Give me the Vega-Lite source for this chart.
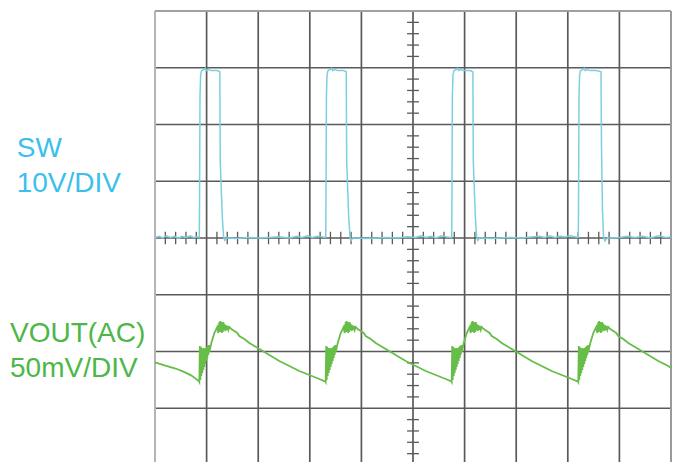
{
  "$schema": "https://vega.github.io/schema/vega-lite/v6.json",
  "width": 674,
  "height": 462,
  "autosize": {"type": "none"},
  "padding": 0,
  "background": "#ffffff",
  "config": {"view": {"stroke": null}},
  "datasets": {
    "vgrid": [{"x":1},{"x":2},{"x":3},{"x":4},{"x":5},{"x":6},{"x":7},{"x":8},{"x":9}],
    "hgrid": [{"y":-3},{"y":-2},{"y":-1},{"y":0},{"y":1},{"y":2},{"y":3}],
    "htick": [{"x":0.2},{"x":0.4},{"x":0.6},{"x":0.8},{"x":1.2},{"x":1.4},{"x":1.6},{"x":1.8},{"x":2.2},{"x":2.4},{"x":2.6},{"x":2.8},{"x":3.2},{"x":3.4},{"x":3.6},{"x":3.8},{"x":4.2},{"x":4.4},{"x":4.6},{"x":4.8},{"x":5.2},{"x":5.4},{"x":5.6},{"x":5.8},{"x":6.2},{"x":6.4},{"x":6.6},{"x":6.8},{"x":7.2},{"x":7.4},{"x":7.6},{"x":7.8},{"x":8.2},{"x":8.4},{"x":8.6},{"x":8.8},{"x":9.2},{"x":9.4},{"x":9.6},{"x":9.8}],
    "vtick": [{"y":-3.8},{"y":-3.6},{"y":-3.4},{"y":-3.2},{"y":-2.8},{"y":-2.6},{"y":-2.4},{"y":-2.2},{"y":-1.8},{"y":-1.6},{"y":-1.4},{"y":-1.2},{"y":-0.8},{"y":-0.6},{"y":-0.4},{"y":-0.2},{"y":0.2},{"y":0.4},{"y":0.6},{"y":0.8},{"y":1.2},{"y":1.4},{"y":1.6},{"y":1.8},{"y":2.2},{"y":2.4},{"y":2.6},{"y":2.8},{"y":3.2},{"y":3.4},{"y":3.6},{"y":3.8}],
    "sw": [
      {"x":0,"y":0.01},{"x":0.08,"y":0.03},{"x":0.15,"y":0.0},{"x":0.22,"y":0.04},{"x":0.3,"y":0.01},{"x":0.38,"y":0.03},{"x":0.45,"y":-0.01},{"x":0.52,"y":0.03},{"x":0.6,"y":0.01},{"x":0.68,"y":0.04},{"x":0.75,"y":0.01},{"x":0.82,"y":0.02},
      {"x":0.853,"y":0.01},{"x":0.859,"y":0.02},{"x":0.864,"y":0.8},{"x":0.872,"y":2.49},{"x":0.884,"y":2.88},{"x":0.903,"y":2.95},{"x":0.955,"y":2.97},{"x":0.975,"y":2.99},{"x":0.994,"y":2.95},{"x":1.033,"y":2.97},{"x":1.091,"y":2.95},{"x":1.207,"y":2.95},{"x":1.256,"y":2.93},{"x":1.265,"y":1.33},{"x":1.304,"y":0.38},{"x":1.329,"y":0.02},{"x":1.353,"y":-0.04},{"x":1.382,"y":0.0},
      {"x":1.45,"y":0.0},{"x":1.55,"y":-0.01},{"x":1.7,"y":0.0},{"x":1.85,"y":0.01},{"x":2.0,"y":0.0},{"x":2.2,"y":0.01},{"x":2.4,"y":0.02},{"x":2.6,"y":0.0},{"x":2.75,"y":0.03},{"x":2.85,"y":0.01},{"x":2.95,"y":0.04},{"x":3.05,"y":0.01},{"x":3.15,"y":0.03},{"x":3.25,"y":0.02},
      {"x":3.303,"y":0.01},{"x":3.309,"y":0.02},{"x":3.314,"y":0.8},{"x":3.322,"y":2.49},{"x":3.334,"y":2.88},{"x":3.353,"y":2.95},{"x":3.405,"y":2.97},{"x":3.425,"y":2.99},{"x":3.444,"y":2.95},{"x":3.483,"y":2.97},{"x":3.541,"y":2.95},{"x":3.657,"y":2.95},{"x":3.706,"y":2.93},{"x":3.715,"y":1.33},{"x":3.754,"y":0.38},{"x":3.779,"y":0.02},{"x":3.803,"y":-0.04},{"x":3.832,"y":0.0},
      {"x":3.9,"y":0.0},{"x":4.1,"y":-0.01},{"x":4.3,"y":0.0},{"x":4.5,"y":0.01},{"x":4.7,"y":0.0},{"x":4.9,"y":0.02},{"x":5.05,"y":0.01},{"x":5.15,"y":0.04},{"x":5.25,"y":0.01},{"x":5.35,"y":0.03},{"x":5.45,"y":0.0},{"x":5.55,"y":0.04},{"x":5.65,"y":0.02},
      {"x":5.744,"y":0.01},{"x":5.75,"y":0.02},{"x":5.755,"y":0.8},{"x":5.763,"y":2.49},{"x":5.775,"y":2.88},{"x":5.794,"y":2.95},{"x":5.846,"y":2.97},{"x":5.866,"y":2.99},{"x":5.885,"y":2.95},{"x":5.924,"y":2.97},{"x":5.982,"y":2.95},{"x":6.098,"y":2.95},{"x":6.16,"y":2.93},{"x":6.169,"y":1.33},{"x":6.208,"y":0.38},{"x":6.233,"y":0.02},{"x":6.257,"y":-0.04},{"x":6.286,"y":0.0},
      {"x":6.35,"y":0.0},{"x":6.5,"y":-0.01},{"x":6.7,"y":0.0},{"x":6.9,"y":0.01},{"x":7.1,"y":0.0},{"x":7.3,"y":0.02},{"x":7.45,"y":0.03},{"x":7.55,"y":0.01},{"x":7.65,"y":0.04},{"x":7.75,"y":0.01},{"x":7.85,"y":0.03},{"x":7.95,"y":0.02},{"x":8.05,"y":0.04},{"x":8.15,"y":0.02},
      {"x":8.198,"y":0.01},{"x":8.204,"y":0.02},{"x":8.209,"y":0.8},{"x":8.217,"y":2.49},{"x":8.229,"y":2.88},{"x":8.248,"y":2.95},{"x":8.3,"y":2.97},{"x":8.32,"y":2.99},{"x":8.339,"y":2.95},{"x":8.378,"y":2.97},{"x":8.436,"y":2.95},{"x":8.552,"y":2.95},{"x":8.643,"y":2.93},{"x":8.653,"y":1.6},{"x":8.672,"y":0.5},{"x":8.692,"y":0.02},{"x":8.721,"y":-0.05},{"x":8.76,"y":0.0},
      {"x":8.85,"y":0.0},{"x":9.0,"y":0.01},{"x":9.15,"y":0.03},{"x":9.3,"y":0.01},{"x":9.45,"y":0.03},{"x":9.6,"y":0.0},{"x":9.75,"y":0.04},{"x":9.9,"y":0.01},{"x":10.0,"y":0.02}
    ],
    "vout": [
      {"x":0,"y":-2.19},{"x":0.2,"y":-2.25},{"x":0.4,"y":-2.3},{"x":0.55,"y":-2.354},{"x":0.7,"y":-2.42},
      {"x":0.849,"y":-2.52},{"x":0.859,"y":-2.537},{"x":0.869,"y":-1.903},{"x":0.878,"y":-2.502},{"x":0.888,"y":-1.921},{"x":0.898,"y":-2.432},{"x":0.907,"y":-1.938},{"x":0.917,"y":-2.379},{"x":0.927,"y":-1.956},{"x":0.937,"y":-2.326},{"x":0.946,"y":-1.938},{"x":0.956,"y":-2.273},{"x":0.966,"y":-1.956},{"x":0.975,"y":-2.22},{"x":0.985,"y":-1.938},{"x":0.995,"y":-2.167},{"x":1.004,"y":-1.921},{"x":1.014,"y":-2.115},{"x":1.024,"y":-1.903},{"x":1.033,"y":-2.062},{"x":1.043,"y":-1.885},{"x":1.053,"y":-2.009},{"x":1.092,"y":-1.85},{"x":1.15,"y":-1.674},{"x":1.208,"y":-1.568},{"x":1.227,"y":-1.674},{"x":1.247,"y":-1.48},{"x":1.256,"y":-1.656},{"x":1.266,"y":-1.463},{"x":1.276,"y":-1.639},{"x":1.285,"y":-1.48},{"x":1.295,"y":-1.674},{"x":1.305,"y":-1.498},{"x":1.314,"y":-1.656},{"x":1.324,"y":-1.48},{"x":1.334,"y":-1.621},{"x":1.343,"y":-1.515},{"x":1.363,"y":-1.639},{"x":1.373,"y":-1.533},{"x":1.382,"y":-1.621},{"x":1.402,"y":-1.551},{"x":1.421,"y":-1.621},{"x":1.44,"y":-1.568},{"x":1.479,"y":-1.604},{"x":1.537,"y":-1.639},{"x":1.595,"y":-1.674},{"x":1.634,"y":-1.727},{"x":1.731,"y":-1.78},{"x":1.828,"y":-1.85},{"x":1.925,"y":-1.903},{"x":2.022,"y":-1.956},{"x":2.216,"y":-2.062},{"x":2.409,"y":-2.167},{"x":2.603,"y":-2.256},{"x":2.797,"y":-2.344},{"x":2.991,"y":-2.414},{"x":3.185,"y":-2.485},{"x":3.281,"y":-2.52},
      {"x":3.298,"y":-2.52},{"x":3.308,"y":-2.537},{"x":3.318,"y":-1.903},{"x":3.327,"y":-2.502},{"x":3.337,"y":-1.921},{"x":3.347,"y":-2.432},{"x":3.356,"y":-1.938},{"x":3.366,"y":-2.379},{"x":3.376,"y":-1.956},{"x":3.386,"y":-2.326},{"x":3.395,"y":-1.938},{"x":3.405,"y":-2.273},{"x":3.415,"y":-1.956},{"x":3.424,"y":-2.22},{"x":3.434,"y":-1.938},{"x":3.444,"y":-2.167},{"x":3.453,"y":-1.921},{"x":3.463,"y":-2.115},{"x":3.473,"y":-1.903},{"x":3.482,"y":-2.062},{"x":3.492,"y":-1.885},{"x":3.502,"y":-2.009},{"x":3.541,"y":-1.85},{"x":3.599,"y":-1.674},{"x":3.657,"y":-1.568},{"x":3.676,"y":-1.674},{"x":3.696,"y":-1.48},{"x":3.705,"y":-1.656},{"x":3.715,"y":-1.463},{"x":3.725,"y":-1.639},{"x":3.734,"y":-1.48},{"x":3.744,"y":-1.674},{"x":3.754,"y":-1.498},{"x":3.763,"y":-1.656},{"x":3.773,"y":-1.48},{"x":3.783,"y":-1.621},{"x":3.792,"y":-1.515},{"x":3.812,"y":-1.639},{"x":3.822,"y":-1.533},{"x":3.831,"y":-1.621},{"x":3.851,"y":-1.551},{"x":3.87,"y":-1.621},{"x":3.889,"y":-1.568},{"x":3.928,"y":-1.604},{"x":3.986,"y":-1.639},{"x":4.044,"y":-1.674},{"x":4.083,"y":-1.727},{"x":4.18,"y":-1.78},{"x":4.277,"y":-1.85},{"x":4.374,"y":-1.903},{"x":4.471,"y":-1.956},{"x":4.665,"y":-2.062},{"x":4.858,"y":-2.167},{"x":5.052,"y":-2.256},{"x":5.246,"y":-2.344},{"x":5.44,"y":-2.414},{"x":5.634,"y":-2.485},{"x":5.73,"y":-2.52},
      {"x":5.74,"y":-2.52},{"x":5.75,"y":-2.537},{"x":5.76,"y":-1.903},{"x":5.769,"y":-2.502},{"x":5.779,"y":-1.921},{"x":5.789,"y":-2.432},{"x":5.798,"y":-1.938},{"x":5.808,"y":-2.379},{"x":5.818,"y":-1.956},{"x":5.828,"y":-2.326},{"x":5.837,"y":-1.938},{"x":5.847,"y":-2.273},{"x":5.857,"y":-1.956},{"x":5.866,"y":-2.22},{"x":5.876,"y":-1.938},{"x":5.886,"y":-2.167},{"x":5.895,"y":-1.921},{"x":5.905,"y":-2.115},{"x":5.915,"y":-1.903},{"x":5.924,"y":-2.062},{"x":5.934,"y":-1.885},{"x":5.944,"y":-2.009},{"x":5.983,"y":-1.85},{"x":6.041,"y":-1.674},{"x":6.099,"y":-1.568},{"x":6.118,"y":-1.674},{"x":6.138,"y":-1.48},{"x":6.147,"y":-1.656},{"x":6.157,"y":-1.463},{"x":6.167,"y":-1.639},{"x":6.176,"y":-1.48},{"x":6.186,"y":-1.674},{"x":6.196,"y":-1.498},{"x":6.205,"y":-1.656},{"x":6.215,"y":-1.48},{"x":6.225,"y":-1.621},{"x":6.234,"y":-1.515},{"x":6.254,"y":-1.639},{"x":6.264,"y":-1.533},{"x":6.273,"y":-1.621},{"x":6.293,"y":-1.551},{"x":6.312,"y":-1.621},{"x":6.331,"y":-1.568},{"x":6.37,"y":-1.604},{"x":6.428,"y":-1.639},{"x":6.486,"y":-1.674},{"x":6.525,"y":-1.727},{"x":6.622,"y":-1.78},{"x":6.719,"y":-1.85},{"x":6.816,"y":-1.903},{"x":6.913,"y":-1.956},{"x":7.107,"y":-2.062},{"x":7.3,"y":-2.167},{"x":7.494,"y":-2.256},{"x":7.688,"y":-2.344},{"x":7.882,"y":-2.414},{"x":8.076,"y":-2.485},{"x":8.172,"y":-2.52},
      {"x":8.193,"y":-2.52},{"x":8.203,"y":-2.537},{"x":8.213,"y":-1.903},{"x":8.222,"y":-2.502},{"x":8.232,"y":-1.921},{"x":8.242,"y":-2.432},{"x":8.251,"y":-1.938},{"x":8.261,"y":-2.379},{"x":8.271,"y":-1.956},{"x":8.281,"y":-2.326},{"x":8.29,"y":-1.938},{"x":8.3,"y":-2.273},{"x":8.31,"y":-1.956},{"x":8.319,"y":-2.22},{"x":8.329,"y":-1.938},{"x":8.339,"y":-2.167},{"x":8.348,"y":-1.921},{"x":8.358,"y":-2.115},{"x":8.368,"y":-1.903},{"x":8.377,"y":-2.062},{"x":8.387,"y":-1.885},{"x":8.397,"y":-2.009},{"x":8.436,"y":-1.85},{"x":8.494,"y":-1.674},{"x":8.552,"y":-1.568},{"x":8.571,"y":-1.674},{"x":8.591,"y":-1.48},{"x":8.6,"y":-1.656},{"x":8.61,"y":-1.463},{"x":8.62,"y":-1.639},{"x":8.629,"y":-1.48},{"x":8.639,"y":-1.674},{"x":8.649,"y":-1.498},{"x":8.658,"y":-1.656},{"x":8.668,"y":-1.48},{"x":8.678,"y":-1.621},{"x":8.687,"y":-1.515},{"x":8.707,"y":-1.639},{"x":8.717,"y":-1.533},{"x":8.726,"y":-1.621},{"x":8.746,"y":-1.551},{"x":8.765,"y":-1.621},{"x":8.784,"y":-1.568},{"x":8.823,"y":-1.604},{"x":8.881,"y":-1.639},{"x":8.939,"y":-1.674},{"x":8.978,"y":-1.727},{"x":9.075,"y":-1.78},{"x":9.172,"y":-1.85},{"x":9.269,"y":-1.903},{"x":9.366,"y":-1.956},{"x":9.56,"y":-2.062},{"x":9.753,"y":-2.167},{"x":9.947,"y":-2.256},{"x":10.0,"y":-2.29}
    ],
    "swlabel": [{"x":-2.68,"y":1.433,"label":"SW"},{"x":-2.68,"y":0.816,"label":"10V/DIV"}],
    "voutlabel": [{"x":-2.81,"y":-1.827,"label":"VOUT(AC)"},{"x":-2.81,"y":-2.444,"label":"50mV/DIV"}]
  },
  "layer": [
    {
      "data": {"name": "vgrid"},
      "mark": {"type": "rule", "color": "#5a5a5a", "strokeWidth": 1.7},
      "encoding": {
        "x": {"field": "x", "type": "quantitative", "scale": {"domain": [-3.004, 10.058], "nice": false, "zero": false}, "axis": null},
        "y": {"datum": -4, "type": "quantitative", "scale": {"domain": [-3.947, 4.194], "nice": false, "zero": false}, "axis": null},
        "y2": {"datum": 4}
      }
    },
    {
      "data": {"name": "hgrid"},
      "mark": {"type": "rule", "color": "#5a5a5a", "strokeWidth": 1.7},
      "encoding": {
        "y": {"field": "y", "type": "quantitative"},
        "x": {"datum": 0, "type": "quantitative"},
        "x2": {"datum": 10}
      }
    },
    {
      "data": {"values": [{"x": 0}]},
      "mark": {"type": "rule", "color": "#b4b4b4", "strokeWidth": 2},
      "encoding": {
        "x": {"field": "x", "type": "quantitative"},
        "y": {"datum": -4, "type": "quantitative"},
        "y2": {"datum": 4}
      }
    },
    {
      "data": {"values": [{"x": 10}]},
      "mark": {"type": "rule", "color": "#9a9a9a", "strokeWidth": 2},
      "encoding": {
        "x": {"field": "x", "type": "quantitative"},
        "y": {"datum": -4, "type": "quantitative"},
        "y2": {"datum": 4}
      }
    },
    {
      "data": {"values": [{"y": 4}]},
      "mark": {"type": "rule", "color": "#a0a0a0", "strokeWidth": 2},
      "encoding": {
        "y": {"field": "y", "type": "quantitative"},
        "x": {"datum": 0, "type": "quantitative"},
        "x2": {"datum": 10}
      }
    },
    {
      "data": {"name": "htick"},
      "mark": {"type": "rule", "color": "#5a5a5a", "strokeWidth": 1.3},
      "encoding": {
        "x": {"field": "x", "type": "quantitative"},
        "y": {"datum": -0.11, "type": "quantitative"},
        "y2": {"datum": 0.11}
      }
    },
    {
      "data": {"name": "vtick"},
      "mark": {"type": "rule", "color": "#5a5a5a", "strokeWidth": 1.3},
      "encoding": {
        "y": {"field": "y", "type": "quantitative"},
        "x": {"datum": 4.885, "type": "quantitative"},
        "x2": {"datum": 5.115}
      }
    },
    {
      "data": {"name": "sw"},
      "mark": {"type": "line", "color": "#7ccfe0", "strokeWidth": 1.5},
      "encoding": {
        "x": {"field": "x", "type": "quantitative"},
        "y": {"field": "y", "type": "quantitative"}
      }
    },
    {
      "data": {"name": "vout"},
      "mark": {"type": "line", "color": "#66bd48", "strokeWidth": 1.8},
      "encoding": {
        "x": {"field": "x", "type": "quantitative"},
        "y": {"field": "y", "type": "quantitative"}
      }
    },
    {
      "data": {"name": "swlabel"},
      "mark": {"type": "text", "color": "#3cbfea", "font": "Liberation Sans", "fontSize": 28, "align": "left", "baseline": "alphabetic"},
      "encoding": {
        "x": {"field": "x", "type": "quantitative"},
        "y": {"field": "y", "type": "quantitative"},
        "text": {"field": "label", "type": "nominal"}
      }
    },
    {
      "data": {"name": "voutlabel"},
      "mark": {"type": "text", "color": "#4cb748", "font": "Liberation Sans", "fontSize": 28, "align": "left", "baseline": "alphabetic"},
      "encoding": {
        "x": {"field": "x", "type": "quantitative"},
        "y": {"field": "y", "type": "quantitative"},
        "text": {"field": "label", "type": "nominal"}
      }
    }
  ]
}
